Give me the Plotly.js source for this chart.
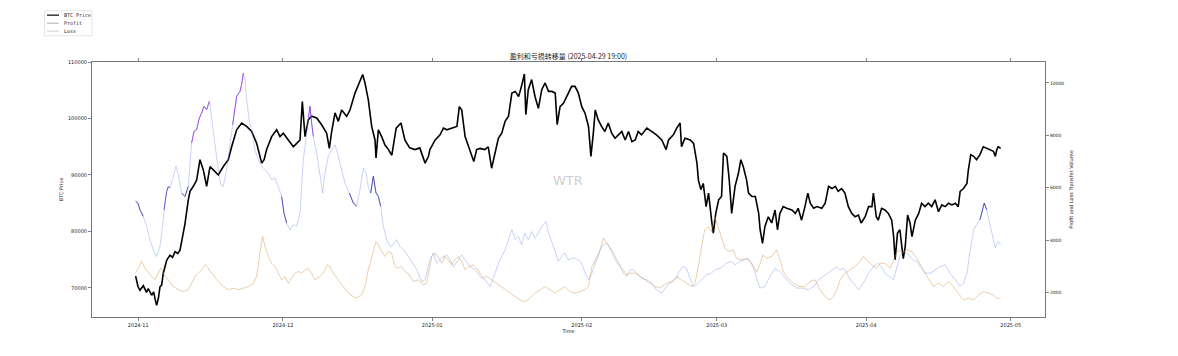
<!DOCTYPE html>
<html>
<head>
<meta charset="utf-8">
<script src="https://cdn.plot.ly/plotly-3.0.1.min.js"></script>
<style>html,body{margin:0;padding:0;background:#fff;}#chart{width:1178px;height:356px;}</style>
</head>
<body>
<div id="chart"></div>
<script>
// ---------- data (day offsets from 2024-11-01 00:00) ----------
const btcDay = [-0.55,-0.05,0.35,1.04,1.7,2.08,2.77,3.2,3.47,3.81,4.2,4.5,4.85,5.19,5.89,6.58,7.1,7.62,8.2,8.65,9.0,9.69,10.38,10.73,11.42,12.11,12.8,13.49,14.18,14.88,15.57,16.6,17.64,18.68,19.37,20.41,21.45,22.48,23.52,24.56,25.6,26.1,26.63,27.67,28.71,29.4,30.09,31.13,32.17,32.86,33.55,34.03,34.59,35.28,35.97,37.01,38.04,39.08,39.63,40.12,40.81,41.5,42.19,43.23,43.92,44.96,45.65,46.55,47.03,47.72,48.42,49.11,49.32,49.8,50.49,51.18,51.9,52.6,53.5,54.5,55.3,56.3,57.4,58.4,59.5,60.2,60.5,61.6,62.6,63.3,64.0,65.0,66.1,66.6,67.1,67.8,68.5,69.2,69.6,70.2,70.9,71.9,72.6,73.3,74.0,74.7,75.4,76.1,76.8,77.5,78.2,78.9,79.5,80.1,80.4,80.9,81.6,82.3,83.0,83.7,84.4,85.1,85.8,86.5,86.9,87.5,88.2,88.9,89.9,90.6,91.3,92.0,92.7,93.4,93.9,94.4,94.8,95.4,96.1,96.8,97.5,98.2,98.9,99.6,100.3,101.0,101.7,102.4,103.1,103.7,104.4,105.5,106.5,107.5,108.6,109.5,110.0,111.0,111.7,112.4,112.7,113.4,114.5,115.2,115.9,116.2,116.7,117.2,117.8,118.3,119.0,119.3,119.8,120.4,121.0,121.4,122.1,122.6,123.1,123.8,124.5,125.0,125.5,126.2,126.6,127.3,128.0,128.7,129.0,129.5,130.0,130.7,131.4,132.1,132.6,133.1,133.8,134.5,135.6,136.3,136.9,137.6,138.3,138.9,139.4,140.1,140.8,141.8,142.5,143.2,143.9,144.6,145.2,145.9,146.6,147.3,148.0,148.7,149.4,149.95,150.8,151.5,152.2,152.5,153.1,153.5,154.2,154.9,155.6,156.3,156.7,157.0,157.5,158.0,158.4,158.7,159.1,159.6,160.1,160.5,161.2,161.9,162.5,163.2,163.9,164.6,165.3,166.0,166.7,167.4,168.1,168.8,169.5,170.1,170.5,171.2,171.9,172.2,172.7,173.3,173.9,174.6,175.3,176.0,176.7,177.4,177.8,178.1,178.4,178.9];
const btcPrice = [72100,70200,69600,70400,69200,69900,68700,69300,68100,66900,68300,70200,70500,72600,74900,75800,75400,76400,76100,76700,78200,81400,85600,87100,88000,89100,92700,90900,88000,91500,90900,90000,91500,92700,95000,98000,99200,98600,97700,95600,92100,92700,94500,96800,98000,96800,97400,96200,95000,95600,96200,103000,96800,99800,100400,100100,98900,97400,94700,97700,101000,99500,101500,100400,101500,104500,106000,107800,106300,103300,98600,96200,93000,98000,96800,95300,94500,93500,98300,99200,96200,94800,94500,94800,92100,93300,94500,96200,97100,98300,98000,98300,98600,102100,101500,96800,95000,93300,92400,94500,94700,94500,95000,91200,93900,96500,97400,99500,100400,104500,104800,103900,105700,107900,100700,105100,106900,103900,101800,105100,106300,104800,104800,104500,98900,102100,102700,103900,105700,105700,104500,102100,100900,98600,93300,97400,101500,99800,98600,97700,99200,97400,96500,97100,97700,96200,97700,95900,96200,97700,97100,98300,97700,97100,96200,94500,96200,97100,98300,99200,95000,96500,96200,95600,92100,89100,87400,88500,84400,86800,81500,79700,83200,85600,86200,93900,93300,89100,83200,88000,90300,92700,91500,89100,86800,86200,86200,83200,80300,77900,80900,82600,81500,83800,80300,83200,84400,84100,83800,83200,84100,82000,84400,86800,85000,84100,84400,84100,85000,88000,87600,88000,87100,87600,86800,84400,83200,82600,82900,81500,82600,84400,84400,86800,82600,82000,84100,83800,83200,82000,79100,75000,79700,80300,77300,75200,77300,82900,81500,79100,82000,83200,85000,84400,85000,84400,85600,83500,84700,84400,85000,84700,85000,84400,87100,87600,88500,90900,93600,93300,92700,93600,95000,94700,94500,94200,93300,94500,95000,94700];

const profitDay = [-0.55,-0.05,0.35,1.04,1.74,2.43,3.12,3.81,4.5,4.85,5.33,5.89,6.23,6.58,7.27,7.82,8.31,9.0,9.69,10.38,10.73,11.07,11.56,12.11,12.66,13.15,13.63,14.18,14.74,15.22,15.57,16.12,16.6,17.09,17.64,18.33,19.02,19.58,20.41,21.1,21.45,21.79,22.14,22.48,23.04,23.52,24.21,24.9,25.6,26.29,26.98,27.67,28.36,29.05,29.74,30.23,30.78,31.47,32.17,32.86,33.55,34.24,34.79,35.28,35.62,35.97,36.31,37.01,37.7,38.25,38.74,39.43,40.12,40.81,41.5,42.19,42.88,43.78,44.61,45.3,45.99,46.69,47.24,47.72,48.21,48.76,49.32,49.8,50.3,50.84,51.53,52.22,52.91,53.6,54.3,55.33,56.23,57.8,58.8,59.5,60.5,61.2,61.9,62.9,64.0,64.7,65.4,66.4,67.1,67.8,68.8,69.9,70.9,71.9,73.0,74.0,75.0,76.1,76.8,77.5,78.2,78.9,79.5,80.2,80.9,81.6,82.3,83.0,83.7,84.0,84.6,85.1,85.8,86.5,87.1,87.8,88.5,89.2,90.3,91.3,92.0,92.7,93.4,94.1,94.8,95.4,95.8,96.5,97.2,97.9,98.6,99.3,99.9,100.6,101.3,102.0,102.7,103.4,104.4,105.5,106.5,107.5,108.6,109.6,110.3,111.0,111.7,112.0,113.0,113.7,114.4,115.1,115.8,116.8,117.9,118.9,119.6,120.7,121.3,122.0,123.1,123.8,124.8,125.8,126.5,127.2,127.9,128.9,130.0,131.0,132.1,133.1,134.1,135.2,136.6,138.0,139.0,140.1,141.1,142.1,143.2,144.2,144.9,145.6,146.3,147.0,147.7,148.4,149.4,150.4,151.5,152.5,153.5,154.2,154.9,155.8,156.7,157.4,158.0,158.7,159.4,160.1,160.8,161.5,162.2,163.2,164.3,165.3,166.3,167.4,168.4,169.5,170.5,171.2,171.9,172.6,173.3,173.9,174.6,175.0,175.5,176.0,176.7,177.4,177.8,178.4,178.9];
const profitVol = [5480,5410,5160,4910,4530,4020,3630,3380,3760,4270,5160,5860,6050,5990,6440,6820,6500,5800,5670,6050,6940,7710,8150,8220,8660,8850,9110,8980,9300,8600,8090,7200,6690,6120,6050,6690,7710,8410,9490,9680,9940,10380,10130,9360,8540,8220,7450,7070,6820,6690,6560,6310,6370,6050,5670,5030,4650,4400,4590,4530,5030,7070,7960,8660,9110,8470,7960,7330,6560,5800,6560,7200,7450,7640,7200,6690,6180,5800,5420,5290,5930,6750,6560,6050,5800,6440,5800,5670,5290,4530,4020,3760,3830,4020,3760,3570,3320,2870,2420,2490,3250,3510,3120,3320,3440,3250,2990,3250,3440,3250,2990,2870,2620,2490,2230,2740,3250,3630,4020,4400,4020,4140,3830,4270,4020,4330,4080,4270,4530,4590,4720,4270,3950,3570,3190,3380,3510,3250,3320,3250,3120,2740,2490,2740,3120,3380,3630,3830,3890,3700,3510,3250,3060,2740,2620,2870,2870,2740,2550,2490,2360,2110,1980,2250,2360,2470,2550,2740,3000,2930,2550,2230,2300,2490,2680,2740,2870,2930,3000,3120,3190,3060,3190,3250,3310,3120,2800,2170,2230,2610,2930,2800,2610,2360,2170,2170,2110,2230,2490,2620,2740,2870,2990,2870,2930,2740,2490,2360,2110,2360,2740,2990,3120,2990,2740,2620,2490,2990,3380,3570,3510,3380,3250,3190,2990,2740,2740,2870,2990,3060,2740,2490,2230,2360,2740,3630,4400,4590,4780,5030,5420,5160,4530,4020,3700,3950,3830];

const lossDay = [-0.55,0.7,1.39,2.43,3.47,4.16,4.64,5.19,6.23,7.27,8.31,9.35,10.38,11.07,11.76,12.46,13.15,13.84,14.32,14.88,15.57,16.26,16.95,17.64,18.68,19.72,20.75,21.79,22.83,23.87,24.56,25.25,25.8,26.29,26.98,27.67,28.36,29.05,29.74,30.43,31.13,31.82,32.51,33.2,33.89,34.59,35.28,35.97,36.66,37.7,38.39,39.22,39.77,40.47,41.5,42.54,43.57,44.61,45.3,46.34,47.03,47.72,48.42,49.32,49.8,50.49,51.18,51.87,52.56,53.05,53.6,54.64,55.33,56.23,57.1,58.1,59.1,59.8,60.9,61.6,62.3,63.0,63.6,64.3,65.0,65.7,66.4,67.1,67.8,68.5,69.5,70.2,70.9,71.6,72.3,73.3,74.4,75.4,76.1,77.1,78.2,79.2,80.2,81.3,82.3,83.3,84.4,85.4,86.5,87.5,88.5,89.6,90.6,91.6,92.7,93.4,94.1,94.8,95.8,96.5,97.2,97.9,98.6,99.6,100.6,101.3,102.0,103.1,104.1,105.1,106.2,107.2,108.2,109.6,110.6,111.7,112.7,113.7,114.8,115.5,116.2,116.8,117.5,118.2,118.9,119.6,120.3,121.0,121.7,122.4,123.4,124.1,125.1,126.2,127.2,128.3,128.9,129.6,130.3,131.4,132.4,133.1,133.8,134.5,135.9,137.2,138.3,139.4,140.4,141.4,142.5,143.5,144.2,144.9,145.6,146.6,147.7,148.7,149.7,150.4,151.1,152.2,153.2,153.9,154.9,156.0,157.0,157.7,158.4,159.4,160.5,161.5,162.5,163.6,165.0,166.0,167.0,168.1,169.1,170.1,171.2,172.2,173.3,174.3,175.3,176.4,177.4,178.1,178.9];
const lossVol = [2760,3190,2930,2680,2490,2740,2930,2740,2490,2230,2110,2040,2110,2360,2620,2740,2870,3060,2990,2810,2680,2490,2360,2230,2110,2170,2110,2170,2230,2360,2620,3510,4140,3760,3380,3120,2990,2740,2490,2620,2360,2550,2740,2810,2740,2870,2930,2740,2490,2620,2740,3060,2990,2740,2490,2230,1980,1850,1790,1910,2230,2870,3380,3950,3830,3570,3380,3570,3510,3120,2930,2990,2810,2680,2420,2490,2300,2360,3380,3510,3320,3120,3380,3250,3060,3250,3380,3190,2870,2990,3060,2930,2740,2550,2620,2490,2360,2230,2110,1980,1850,1720,1660,1790,1980,2110,2230,2110,1980,2110,2230,2040,1980,2040,2110,2230,2990,3250,3630,4080,3890,3700,3380,3060,2870,2680,2740,2740,2620,2490,2360,2230,2170,2360,2420,2610,2490,2360,2230,2360,3000,3700,4400,4520,4330,4900,4520,4080,3700,3570,3630,3310,3250,3310,3120,2800,3060,3440,3310,3380,3630,3250,2800,2610,2360,2230,2230,2420,2490,2110,1850,1720,1850,2110,2490,2740,2870,2990,3190,3380,3250,3060,2930,3120,3120,2930,3380,3630,3510,3630,3570,3310,2990,2620,2230,2360,2230,2420,2230,1980,1720,1790,1720,1910,2040,1980,1910,1790,1790];

const seriesNames = ['BTC Price', 'Profit', 'Loss'];
const chartTitle = '盈利和亏损转移量 (2025-04-29 19:00)';
const monthTicks = ['2024-11-01','2024-12-01','2025-01-01','2025-02-01','2025-03-01','2025-04-01','2025-05-01'];
const monthLabels = ['2024-11','2024-12','2025-01','2025-02','2025-03','2025-04','2025-05'];

// ---------- styling ----------
const BASE = Date.UTC(2024, 10, 1);
function toDate(d) {
  return new Date(BASE + d * 86400000).toISOString().slice(0, 19).replace('T', ' ');
}
// colour emphasis of the profit line (style only: day ranges + colour)
const profitEmphasis = [
  [-0.6, 1.1, '#3d3aa8'], [5.2, 6.7, '#6a3ccf'], [8.6, 10.5, '#3d3aa8'],
  [11.0, 14.8, '#9a35e0'], [19.5, 21.8, '#9a35e0'], [29.7, 30.9, '#3d3aa8'],
  [33.2, 33.9, '#3d3aa8'], [34.9, 36.4, '#9a35e0'], [37.8, 38.6, '#3d3aa8'],
  [43.7, 45.4, '#3d3aa8'], [48.1, 50.4, '#3d3aa8'], [174.5, 176.1, '#3d3aa8']
];

const traces = [];
traces.push({
  x: btcDay.map(toDate), y: btcPrice, type: 'scatter', mode: 'lines',
  name: seriesNames[0], line: {color: '#000', width: 1.6}, yaxis: 'y', showlegend: false
});
traces.push({
  x: profitDay.map(toDate), y: profitVol, type: 'scatter', mode: 'lines',
  name: seriesNames[1], line: {color: 'rgba(110,135,230,0.42)', width: 0.9}, yaxis: 'y2', showlegend: false
});
profitEmphasis.forEach(([a, b, c]) => {
  const xs = [], ys = [];
  profitDay.forEach((d, i) => { if (d >= a && d <= b) { xs.push(toDate(d)); ys.push(profitVol[i]); } });
  traces.push({x: xs, y: ys, type: 'scatter', mode: 'lines', line: {color: c, width: 1}, opacity: 0.85,
    yaxis: 'y2', showlegend: false, hoverinfo: 'skip'});
});
traces.push({
  x: lossDay.map(toDate), y: lossVol, type: 'scatter', mode: 'lines',
  name: seriesNames[2], line: {color: 'rgba(215,145,70,0.5)', width: 0.9}, yaxis: 'y2', showlegend: false
});

// geometry helpers for the hand-placed legend (paper coords)
const L = 92, R = 1045, T = 62.3, B = 317.3;
const px = x => (x - L) / (R - L);
const py = y => (B - y) / (B - T);

const legendRows = [
  {y: 15.5, color: '#444', width: 1.6},
  {y: 23.5, color: '#9a9a9a', width: 0.8},
  {y: 31.5, color: '#d8d8d8', width: 1.2}
];
const shapes = [{
  type: 'rect', xref: 'paper', yref: 'paper', x0: px(44.5), x1: px(92), y0: py(36), y1: py(11),
  line: {color: '#dddddd', width: 0.8}, fillcolor: 'rgba(255,255,255,0.8)'
}];
const annotations = [];
legendRows.forEach((r, i) => {
  shapes.push({type: 'line', xref: 'paper', yref: 'paper', x0: px(47), x1: px(59), y0: py(r.y), y1: py(r.y),
    line: {color: r.color, width: r.width}});
  annotations.push({xref: 'paper', yref: 'paper', x: px(62), y: py(r.y), xanchor: 'left', yanchor: 'middle',
    text: seriesNames[i], showarrow: false, font: {family: 'DejaVu Sans Mono', size: 5, color: '#222'}});
});
annotations.push({xref: 'paper', yref: 'paper', x: px(568), y: py(181), text: 'WTR', showarrow: false,
  font: {family: 'DejaVu Sans', size: 13, color: '#cfcfcf'}});

const axisFont = {family: 'DejaVu Sans', size: 5, color: '#222'};
const layout = {
  width: 1178, height: 356,
  margin: {l: L, r: 1178 - R, t: T, b: 356 - B, pad: 0},
  paper_bgcolor: '#fff', plot_bgcolor: '#fff',
  showlegend: false,
  title: {text: chartTitle, font: {family: 'Noto Sans CJK SC', size: 7, color: '#222'},
    x: 0.5, xref: 'paper', xanchor: 'center', y: 1 - 56.5 / 356, yref: 'container', yanchor: 'middle'},
  xaxis: {
    type: 'date', range: [toDate(-9.6), toDate(188.1)],
    tickvals: monthTicks, ticktext: monthLabels,
    ticks: 'outside', ticklen: 3, tickwidth: 0.8, tickcolor: '#666',
    showline: true, linecolor: '#777', linewidth: 1, mirror: 'ticks',
    showgrid: false, zeroline: false, tickfont: axisFont,
    title: {text: 'Time', font: axisFont, standoff: 2}
  },
  yaxis: {
    range: [64850, 110010], tickvals: [70000, 80000, 90000, 100000, 110000], tickformat: 'd',
    ticks: 'outside', ticklen: 3, tickwidth: 0.8, tickcolor: '#666',
    showline: true, linecolor: '#777', linewidth: 1,
    showgrid: false, zeroline: false, tickfont: axisFont,
    title: {text: 'BTC Price', font: axisFont, standoff: 4}
  },
  yaxis2: {
    overlaying: 'y', side: 'right', anchor: 'x',
    range: [1070, 10800], tickvals: [2000, 4000, 6000, 8000, 10000], tickformat: 'd',
    ticks: 'outside', ticklen: 3, tickwidth: 0.8, tickcolor: '#666',
    showline: true, linecolor: '#777', linewidth: 1,
    showgrid: false, zeroline: false, tickfont: {family: 'DejaVu Sans', size: 4.5, color: '#222'},
    title: {text: 'Profit and Loss Transfer Volume', font: axisFont, standoff: 6}
  },
  shapes: shapes,
  annotations: annotations
};

Plotly.newPlot('chart', traces, layout, {displayModeBar: false, staticPlot: true});
</script>
</body>
</html>
